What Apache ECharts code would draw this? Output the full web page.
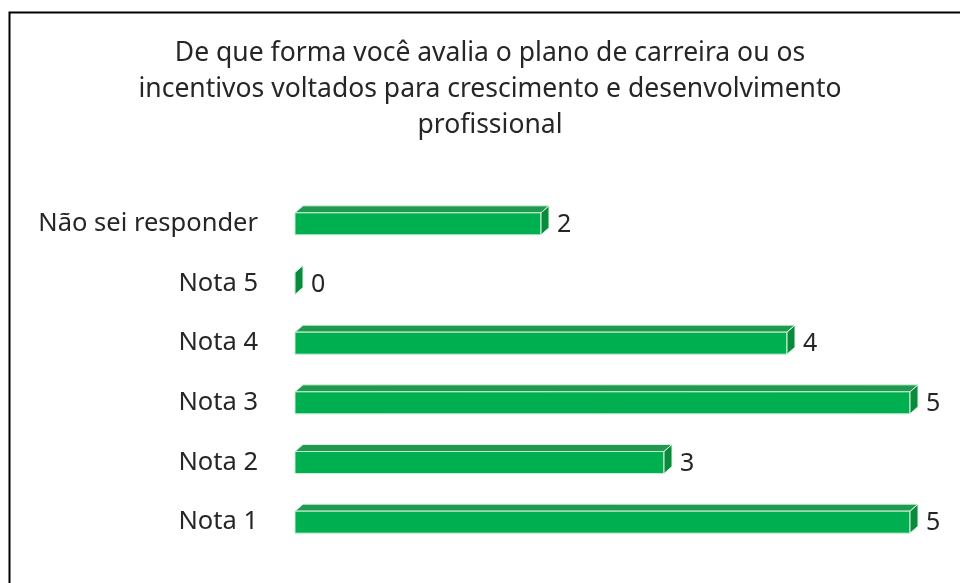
<!DOCTYPE html>
<html>
<head>
<meta charset="utf-8">
<script src="https://cdn.jsdelivr.net/npm/echarts@6/dist/echarts.min.js"></script>
<style>
  html, body { margin: 0; padding: 0; background: #fff; }
  #main { width: 960px; height: 583px; }
</style>
</head>
<body>
<div id="main"></div>
<script>
// categories from bottom to top
var categories = ["Nota 1", "Nota 2", "Nota 3", "Nota 4", "Nota 5", "Não sei responder"];
var values = [5, 3, 5, 4, 0, 2];
var titleText = "De que forma você avalia o plano de carreira ou os\nincentivos voltados para crescimento e desenvolvimento\nprofissional";

var chart = echarts.init(document.getElementById("main"));

var FONT = "Noto Sans";

function renderBar(params, api) {
  var idx = api.value(0);
  var v = api.value(1);
  var p0 = api.coord([0, idx]);
  var p1 = api.coord([v, idx]);
  var x0 = p0[0], x1 = p1[0], cy = p1[1];
  var h = 22, d = 8, dy = 7;
  var top = cy - h / 2, bot = cy + h / 2;
  return {
    type: "group",
    children: [
      {
        type: "polygon",
        shape: { points: [[x0, top], [x0 + d, top - dy], [x1 + d, top - dy], [x1, top]] },
        style: { fill: "#1f9a4e", stroke: "#d9f0e0", lineWidth: 1 }
      },
      {
        type: "rect",
        shape: { x: x0, y: top, width: x1 - x0, height: h },
        style: { fill: "#00b050", stroke: "#c8ecd4", lineWidth: 1 }
      },
      {
        type: "polygon",
        shape: { points: [[x1, top], [x1 + d, top - dy], [x1 + d, bot - dy], [x1, bot]] },
        style: { fill: "#0a8a3c", stroke: "#e0f4e6", lineWidth: 1 }
      },
      {
        type: "text",
        style: {
          x: x1 + d + 8, y: cy + 1, text: String(v),
          fill: "#262626", font: "25px " + FONT,
          textAlign: "left", textVerticalAlign: "middle"
        }
      }
    ]
  };
}

var option = {
  animation: false,
  grid: { left: 295, right: 50, top: 194, height: 358 },
  xAxis: {
    type: "value", min: 0, max: 5,
    show: false
  },
  yAxis: {
    type: "category",
    data: categories,
    axisLine: { show: false },
    axisTick: { show: false },
    axisLabel: { margin: 37, fontSize: 25.5, fontFamily: FONT, color: "#262626", padding: [4, 0, 0, 0] }
  },
  graphic: [
    {
      type: "polyline",
      shape: { points: [[9.5, 600], [9.5, 12.5], [970, 12.5]] },
      style: { stroke: "#000", lineWidth: 2, fill: null }
    },
    {
      type: "text",
      x: 490, y: 35,
      style: {
        text: titleText, font: "26.5px " + FONT, fill: "#262626",
        textAlign: "center", lineHeight: 36
      }
    }
  ],
  series: [{
    type: "custom",
    renderItem: renderBar,
    data: values.map(function (v, i) { return [i, v]; })
  }]
};

chart.setOption(option);
</script>
</body>
</html>
